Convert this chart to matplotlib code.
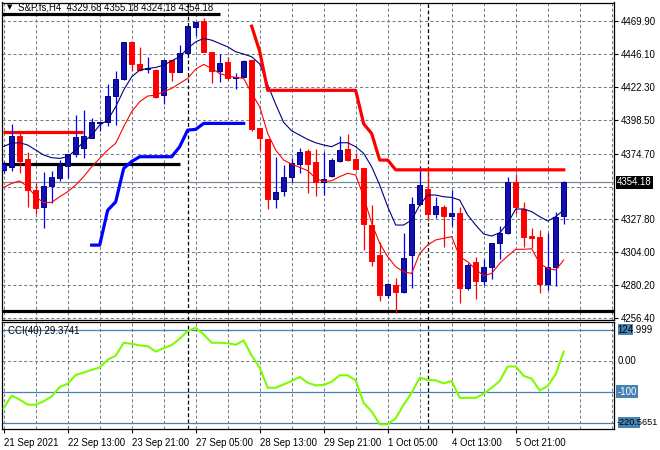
import numpy as np
import matplotlib
matplotlib.use('Agg')
from matplotlib import pyplot as plt
from matplotlib import transforms
from matplotlib.patches import Rectangle

plt.rcParams['font.family'] = ['Liberation Sans', 'DejaVu Sans']
plt.rcParams['font.size'] = 6.9

# H4 bars
opens = [4362.8, 4365.2, 4387.2, 4370.7, 4348.3, 4336.6, 4351.6, 4357.3, 4365.5, 4374.1,
         4378.9, 4386.0, 4396.5, 4397.0, 4415.9, 4427.8, 4454.4, 4438.8, 4435.4, 4434.6,
         4416.6, 4441.7, 4433.3, 4446.5, 4465.6, 4469.7, 4447.2, 4434.0, 4440.0, 4429.2,
         4429.8, 4441.7, 4392.7, 4384.8, 4342.0, 4348.0, 4357.6, 4367.1, 4376.5, 4368.3,
         4354.5, 4358.8, 4369.5, 4377.9, 4370.7, 4364.3, 4323.4, 4301.9, 4273.2, 4280.4,
         4275.6, 4301.9, 4338.5, 4349.2, 4331.1, 4336.6, 4330.1, 4332.3, 4278.5, 4296.6,
         4283.3, 4293.5, 4310.3, 4317.4, 4354.5, 4334.6, 4315.3, 4314.6, 4281.1, 4293.1,
         4329.68]
highs = [4369.0, 4395.8, 4389.1, 4375.5, 4353.3, 4361.2, 4361.9, 4370.0, 4374.6, 4402.0,
         4405.9, 4399.9, 4397.8, 4424.5, 4433.6, 4454.6, 4455.0, 4451.3, 4443.6, 4435.2,
         4442.0, 4442.0, 4452.5, 4466.5, 4469.0, 4471.6, 4447.6, 4446.2, 4444.1, 4432.6,
         4442.0, 4442.0, 4393.0, 4385.2, 4372.4, 4366.4, 4371.2, 4378.4, 4377.7, 4377.7,
         4376.0, 4371.2, 4387.2, 4388.6, 4374.8, 4364.6, 4337.8, 4311.0, 4281.5, 4285.2,
         4317.4, 4343.7, 4365.7, 4362.8, 4343.7, 4337.8, 4348.5, 4336.6, 4296.0, 4300.7,
         4299.0, 4310.6, 4322.7, 4357.6, 4360.0, 4339.6, 4321.0, 4319.8, 4317.4, 4332.6,
         4355.18]
lows = [4361.0, 4362.4, 4360.9, 4336.6, 4331.3, 4321.5, 4339.0, 4355.2, 4356.9, 4372.4,
        4371.7, 4385.5, 4391.0, 4394.6, 4395.1, 4427.4, 4434.1, 4434.1, 4432.1, 4414.2,
        4410.1, 4426.6, 4433.0, 4446.0, 4459.1, 4447.2, 4425.0, 4426.2, 4427.4, 4420.9,
        4429.5, 4391.0, 4377.2, 4334.9, 4335.4, 4344.4, 4354.5, 4360.9, 4346.1, 4344.4,
        4344.9, 4358.1, 4368.8, 4369.5, 4363.0, 4305.5, 4294.0, 4269.2, 4270.8, 4260.6,
        4274.9, 4278.0, 4338.0, 4326.5, 4328.2, 4307.4, 4322.7, 4267.7, 4276.8, 4270.1,
        4280.4, 4284.5, 4298.7, 4317.0, 4331.3, 4307.9, 4306.7, 4274.4, 4276.8, 4279.7,
        4324.18]
closes = [4367.1, 4387.2, 4369.5, 4348.3, 4335.8, 4351.4, 4357.6, 4365.7, 4374.1, 4386.3,
          4387.2, 4397.0, 4397.0, 4415.9, 4427.8, 4454.4, 4438.8, 4434.5, 4435.9, 4415.5,
          4441.7, 4433.3, 4446.5, 4466.1, 4468.7, 4447.7, 4434.0, 4439.3, 4428.6, 4429.8,
          4441.2, 4392.2, 4386.0, 4342.0, 4346.8, 4357.6, 4367.6, 4375.5, 4367.1, 4354.5,
          4356.2, 4370.0, 4377.2, 4370.0, 4363.6, 4323.9, 4297.8, 4273.2, 4281.1, 4275.6,
          4299.5, 4338.5, 4352.1, 4331.1, 4337.0, 4330.1, 4331.8, 4278.0, 4294.7, 4283.5,
          4293.1, 4310.3, 4317.4, 4354.5, 4336.6, 4315.0, 4314.3, 4281.1, 4293.1, 4329.4,
          4354.18]

# moving averages
ma_navy = [4379.8, 4382.2, 4382.4, 4380.8, 4377.2, 4373.6, 4371.7, 4371.2, 4372.4, 4377.2,
           4383.2, 4387.9, 4395.1, 4398.7, 4408.2, 4420.2, 4429.7, 4434.5, 4435.7, 4436.4,
           4438.1, 4441.2, 4444.1, 4450.1, 4454.8, 4457.2, 4456.0, 4453.6, 4451.2, 4447.7,
           4446.0, 4444.1, 4439.0, 4424.0, 4410.0, 4397.0, 4391.0, 4387.9, 4384.8, 4382.4,
           4380.8, 4379.6, 4382.4, 4382.4, 4379.6, 4374.8, 4365.2, 4352.1, 4336.6, 4323.4,
           4323.4, 4327.0, 4337.8, 4344.9, 4344.9, 4343.7, 4343.2, 4341.3, 4330.6, 4323.4,
           4317.0, 4315.5, 4317.9, 4324.6, 4334.9, 4334.9, 4333.0, 4329.4, 4326.3, 4329.4,
           4334.2]
ma_red = [4350.4, 4353.3, 4355.0, 4350.9, 4343.7, 4339.4, 4339.7, 4343.7, 4347.3, 4352.1,
          4358.1, 4365.2, 4371.2, 4377.2, 4382.0, 4393.9, 4404.7, 4411.8, 4415.9, 4416.6,
          4419.0, 4421.4, 4425.0, 4428.6, 4435.2, 4438.6, 4435.7, 4432.1, 4430.2, 4429.3,
          4428.6, 4417.8, 4408.3, 4389.1, 4377.2, 4370.0, 4367.1, 4364.8, 4362.4, 4356.9,
          4354.5, 4355.2, 4358.1, 4360.5, 4359.3, 4343.7, 4324.6, 4310.3, 4300.7, 4293.5,
          4289.9, 4288.7, 4303.1, 4309.1, 4312.7, 4313.9, 4315.1, 4300.7, 4297.1, 4291.6,
          4287.1, 4288.7, 4295.9, 4301.2, 4306.0, 4306.0, 4306.4, 4295.9, 4292.3, 4291.1,
          4298.3]

# trailing stop lines
stop_red_start = 31
stop_red = [4466, 4448] + [4420] * 12 + [4396, 4389, 4370, 4370] + [4363] * 22
stop_blue_start = 11
stop_blue = [4309, 4309, 4334, 4340, 4364, 4369] + [4372.4] * 5 + [4379.6, 4391.5, 4392] + [4396.3] * 6

# horizontal line objects: level, from bar, to bar, colour
hl_levels = [4475.0, 4390.1, 4367.4, 4261.8]
hl_from = [-0.5, -0.1, -0.5, -0.5]
hl_to = [27.05, 9.9, 22.0, 77.0]
hl_colors = ['black', 'red', 'black', 'black']

cci = [-153, -112.6, -125.7, -142, -142, -131, -114.8, -85.2, -74.3, -45.9,
       -38.3, -29.5, -21.9, 3.3, 16.4, 57.9, 54.6, 49.2, 47, 29.5,
       40.4, 50.3, 71, 96.2, 106, 85.2, 57.9, 57.9, 56.8, 51.4,
       65.6, 16.4, -21.9, -87.4, -87.4, -76.5, -65.6, -52.5, -71, -79.8,
       -78, -68, -47, -47, -63.4, -136.6, -164, -205.5, -205.5, -185.8,
       -142, -103.8, -54.6, -62.3, -63.4, -73.2, -65.6, -120, -120, -120,
       -107, -87.4, -65.6, -18.6, -18.6, -49.2, -58, -96.2, -82, -43.7, 29.37]
cci_levels = [100, -100, -200]

price_ticks = [4256.40, 4280.20, 4304.00, 4327.80, 4374.70, 4398.50, 4422.30, 4446.10, 4469.90]
hidden_tick = 4350.90   # gridline only, its label sits under the bid box
date_labels = ['21 Sep 2021', '22 Sep 13:00', '23 Sep 21:00', '27 Sep 05:00', '28 Sep 13:00',
               '29 Sep 21:00', '1 Oct 05:00', '4 Oct 13:00', '5 Oct 21:00']
week_seps = [23, 53]
bid = 4354.18

GRID = '#75808e'
DASH = (0, (3, 2.2))
LEVEL = '#4682b4'

fig = plt.figure(figsize=(6.6, 4.5), dpi=100)


def px_rect(x0, y0, x1, y1):
    return [x0 / 660, 1 - y1 / 450, (x1 - x0) / 660, (y1 - y0) / 450]


ax = fig.add_axes(px_rect(2, 2.5, 614, 320))
ax2 = fig.add_axes(px_rect(2, 322, 614, 429))
xlim = (-0.21, 76.29)

# ---- main price panel ----
ax.set_xlim(*xlim)
ax.set_ylim(4255.3, 4483.0)
for p in price_ticks + [hidden_tick]:
    ax.axhline(p, color=GRID, ls=DASH, lw=0.75, zorder=0)
for b in range(0, 77, 4):
    ax.axvline(b, color=GRID, ls=DASH, lw=0.75, zorder=0)
    ax2.axvline(b, color=GRID, ls=DASH, lw=0.75, zorder=0)
for s in week_seps:
    ax.axvline(s, color='black', ls=(0, (3, 2)), lw=0.9, zorder=1)
    ax2.axvline(s, color='black', ls=(0, (3, 2)), lw=0.9, zorder=1)

ax.axhline(bid, color='#808890', lw=0.9, zorder=1)
ax.hlines(hl_levels, hl_from, hl_to, colors=hl_colors, lw=2.3, zorder=2)

bars = np.arange(len(closes))
o = np.array(opens)
c = np.array(closes)
h = np.array(highs)
l = np.array(lows)
up = c >= o
ax.vlines(bars[up], l[up], h[up], color='#0000ff', lw=0.9, zorder=3)
ax.vlines(bars[~up], l[~up], h[~up], color='#ff0000', lw=0.9, zorder=3)
ax.bar(bars[up], np.maximum(c[up] - o[up], 0.3), bottom=o[up], width=0.62,
       color='#1010b4', edgecolor='#00007a', lw=0.7, zorder=4)
ax.bar(bars[~up], np.minimum(c[~up] - o[~up], -0.3), bottom=o[~up], width=0.62,
       color='#ff0000', edgecolor='#ff0000', lw=0.7, zorder=4)

ax.plot(bars, ma_navy, color='#000080', lw=0.8, zorder=5)
ax.plot(bars, ma_red, color='#ff0000', lw=0.8, zorder=5)
ax.plot(np.arange(stop_red_start, stop_red_start + len(stop_red)), stop_red,
        color='#ff0000', lw=2.3, zorder=5)
ax.plot(np.arange(stop_blue_start, stop_blue_start + len(stop_blue)), stop_blue,
        color='#0000ff', lw=2.3, zorder=5)

ax.set_xticks([])
ax.yaxis.tick_right()
ax.set_yticks(price_ticks)
ax.set_yticklabels(['%.2f' % p for p in price_ticks])
ax.tick_params(axis='y', length=3, width=0.8, pad=2, colors='black')
for sp in ax.spines.values():
    sp.set_color('black')
    sp.set_linewidth(0.9)

ax.text(1.005, bid, '%.2f' % bid, transform=transforms.blended_transform_factory(ax.transAxes, ax.transData),
        color='white', va='center', ha='left', zorder=10, clip_on=False,
        bbox=dict(boxstyle='square,pad=0.15', fc='black', ec='none'))

fig.text(10 / 660, 1 - 7.5 / 450, '\u25bc', fontsize=5, ha='center', va='center', family=['DejaVu Sans'])
fig.text(18 / 660, 1 - 7 / 450, 'S&P.fs,H4  4329.68 4355.18 4324.18 4354.18', va='center', ha='left')

# ---- CCI panel ----
ax2.set_xlim(*xlim)
ax2.set_ylim(-220.5651, 124.999)
ax2.axhline(0, color=GRID, ls=DASH, lw=0.75, zorder=0)
for lv in cci_levels:
    ax2.axhline(lv, color=LEVEL, lw=0.9, zorder=1)
ax2.plot(bars, cci, color='#7cfc00', lw=1.5, zorder=5)

ax2.set_yticks([])
ax2.set_xticks(np.arange(0, 8 * len(date_labels), 8))
ax2.set_xticklabels(date_labels, ha='left')
ax2.tick_params(axis='x', length=3, width=0.8, pad=3.5, colors='black')
for sp in ax2.spines.values():
    sp.set_color('black')
    sp.set_linewidth(0.9)

# level markers on the right scale: the -100 one is readable, the others sit under the scale values
tr = transforms.blended_transform_factory(ax2.transAxes, ax2.transData)
ax2.text(1.006, -100, '-100', transform=tr, color='white', va='center', ha='left', clip_on=False,
         zorder=9, bbox=dict(boxstyle='square,pad=0.15', fc=LEVEL, ec='none'))
for lv, wpx in [(100, 15), (-200, 22)]:
    ax2.add_patch(Rectangle((1.006, lv - 18), wpx / 612, 36, transform=tr, fc=LEVEL, ec='none',
                            clip_on=False, zorder=8))
ax2.text(1.006, 0, '0.00', transform=tr, va='center', ha='left', clip_on=False, zorder=10)
ax2.text(1.006, 100, '124.999', transform=tr, va='center', ha='left', clip_on=False, zorder=10)
ax2.text(1.004, -200, '-220.5651', transform=tr, va='center', ha='left', clip_on=False, zorder=10,
         fontsize=6.6)
fig.text(8 / 660, 1 - 331 / 450, 'CCI(40) 29.3741', va='center', ha='left')

fig.savefig('out.png', dpi=100, facecolor='white')
